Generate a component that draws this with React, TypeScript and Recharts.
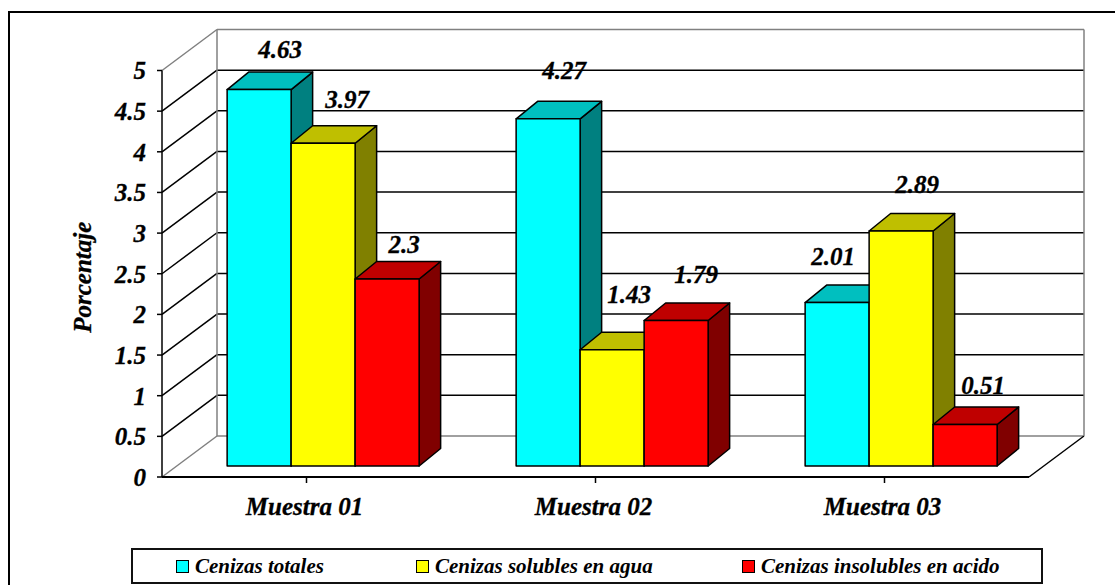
import { BarChart, Bar, XAxis, YAxis, CartesianGrid, Legend, LabelList } from "recharts";

const categories = ["Muestra 01", "Muestra 02", "Muestra 03"];
const cenizasTotales = [4.63, 4.27, 2.01];
const cenizasSolubles = [3.97, 1.43, 2.89];
const cenizasInsolubles = [2.3, 1.79, 0.51];
const yTicks = [0, 0.5, 1, 1.5, 2, 2.5, 3, 3.5, 4, 4.5, 5];

const data = categories.map((name, i) => ({
  name,
  totales: cenizasTotales[i],
  solubles: cenizasSolubles[i],
  insolubles: cenizasInsolubles[i],
}));

const SERIF = '"Liberation Serif", "Times New Roman", serif';
const textStyle = { fontFamily: SERIF, fontWeight: "bold", fontStyle: "italic" } as const;

// plot box and the fake perspective of the walls
const PLOT = { left: 162, top: 70.5, right: 1029, bottom: 477 };
const WALL_DX = 55;
const WALL_DY = 41;
// bars stand part way into the floor, and have their own depth
const BAR_DX = 16;
const BAR_DY = 11;
const DEPTH_X = 21.5;
const DEPTH_Y = 17.5;

// hand placement of the value labels, relative to the front top centre of each bar
const labelNudge = {
  totales: [[21, -40], [16, -48], [-4, -46]],
  solubles: [[24, -43], [17, -55], [16, -46]],
  insolubles: [[17, -34], [20, -45], [18, -39]],
};

const legendLefts = [45, 285, 611];

function wallLine(props: any) {
  const { x1, x2, y1 } = props;
  const y = y1;
  const isTop = Math.abs(y - PLOT.top) < 1;
  const isFloor = Math.abs(y - PLOT.bottom) < 1;
  const edge = isTop || isFloor;
  const color = edge ? "#808080" : "#000";
  return (
    <g key={props.key ?? y}>
      <line x1={x1} y1={y} x2={x1 + WALL_DX} y2={y - WALL_DY} stroke={color} strokeWidth={1.5} />
      <line x1={x1 + WALL_DX} y1={y - WALL_DY} x2={x2 + WALL_DX} y2={y - WALL_DY} stroke={color} strokeWidth={1.5} />
      {isTop && (
        <>
          <line x1={x1 + WALL_DX} y1={y - WALL_DY} x2={x1 + WALL_DX} y2={PLOT.bottom - WALL_DY} stroke="#808080" strokeWidth={1.5} />
          <line x1={x2 + WALL_DX} y1={y - WALL_DY} x2={x2 + WALL_DX} y2={PLOT.bottom - WALL_DY} stroke="#808080" strokeWidth={1.5} />
        </>
      )}
      {isFloor && <line x1={x2} y1={y} x2={x2 + WALL_DX} y2={y - WALL_DY} stroke="#000" strokeWidth={1.5} />}
    </g>
  );
}

function Box3D(props: any) {
  const { x, y, width, height, fill, topFill, sideFill } = props;
  const fx = x + BAR_DX;
  const fy = y - BAR_DY;
  const r = fx + width;
  const b = fy + height;
  const top = `${fx},${fy} ${fx + DEPTH_X},${fy - DEPTH_Y} ${r + DEPTH_X},${fy - DEPTH_Y} ${r},${fy}`;
  const side = `${r},${fy} ${r + DEPTH_X},${fy - DEPTH_Y} ${r + DEPTH_X},${b - DEPTH_Y} ${r},${b}`;
  return (
    <g stroke="#000" strokeWidth={1.5} strokeLinejoin="round">
      <polygon points={side} fill={sideFill} />
      <polygon points={top} fill={topFill} />
      <rect x={fx} y={fy} width={width} height={height} fill={fill} />
    </g>
  );
}

function valueLabel(series: keyof typeof labelNudge) {
  return (props: any) => {
    const { x, y, width, value, index } = props;
    const [dx, dy] = labelNudge[series][index];
    return (
      <text
        x={x + BAR_DX + width / 2 + dx}
        y={y - BAR_DY + dy + 8}
        textAnchor="middle"
        fontSize={25}
        fill="#000"
        stroke="#000"
        strokeWidth={0.3}
        style={textStyle}
      >
        {value}
      </text>
    );
  };
}

function LegendBox({ payload }: any) {
  return (
    <div style={{ position: "relative", width: 912, height: 36, boxSizing: "border-box", border: "2px solid #111" }}>
      {(payload ?? []).map((item: any, i: number) => (
        <div key={item.value} style={{ position: "absolute", left: legendLefts[i] - 2, top: 0, height: 32, display: "flex", alignItems: "center" }}>
          <span style={{ display: "inline-block", boxSizing: "border-box", width: 13, height: 13, background: item.color, border: "1.5px solid #000", marginRight: 6 }} />
          <span style={{ ...textStyle, fontSize: 21, color: "#000", whiteSpace: "nowrap" }}>{item.value}</span>
        </div>
      ))}
    </div>
  );
}

function AxisTitle({ viewBox }: any) {
  const y = viewBox.y + viewBox.height / 2;
  return (
    <text transform={`translate(91 ${y + 3.5}) rotate(-90)`} textAnchor="middle" fontSize={25} fill="#000" stroke="#000" strokeWidth={0.3} style={textStyle}>
      Porcentaje
    </text>
  );
}

function CategoryTick({ x, y, payload }: any) {
  return (
    <text x={x - 2} y={y + 6} dy={24} textAnchor="middle" fontSize={25} fill="#000" stroke="#000" strokeWidth={0.3} style={textStyle}>
      {payload.value}
    </text>
  );
}

export default function App() {
  return (
    <div style={{ position: "absolute", left: 0, top: 0, width: 1115, height: 585, overflow: "hidden", background: "#fff" }}>
      <div style={{ position: "absolute", left: 8, top: 11, right: 0, bottom: 0, borderTop: "2px solid #000", borderLeft: "2px solid #000" }} />
      <BarChart
        width={1115}
        height={585}
        data={data}
        margin={{ top: PLOT.top, right: 1115 - PLOT.right, bottom: 78, left: PLOT.left - 70 }}
        barCategoryGap="17%"
        barGap={0}
      >
        <CartesianGrid horizontal={wallLine} vertical={false} />
        <XAxis
          dataKey="name"
          height={30}
          axisLine={{ stroke: "#000", strokeWidth: 2 }}
          tickLine={{ stroke: "#000", strokeWidth: 1.5 }}
          tickSize={6}
          tick={<CategoryTick />}
          interval={0}
        />
        <YAxis
          width={70}
          domain={[0, 5]}
          ticks={yTicks}
          interval={0}
          axisLine={{ stroke: "#000", strokeWidth: 1.5 }}
          tickLine={{ stroke: "#000", strokeWidth: 1.5 }}
          tickSize={5}
          tickMargin={11}
          tick={{ fontSize: 25, fill: "#000", stroke: "#000", strokeWidth: 0.3, ...textStyle }}
          label={<AxisTitle />}
        />
        <Legend
          layout="horizontal"
          verticalAlign="middle"
          itemSorter={null}
          content={<LegendBox />}
          wrapperStyle={{ position: "absolute", left: 131, top: 548, width: 912, height: 36 }}
        />
        <Bar
          dataKey="totales"
          name="Cenizas totales"
          fill="#00FFFF"
          isAnimationActive={false}
          shape={(p: any) => <Box3D {...p} topFill="#00BFBF" sideFill="#008080" />}
        >
          <LabelList dataKey="totales" content={valueLabel("totales")} />
        </Bar>
        <Bar
          dataKey="solubles"
          name="Cenizas solubles en agua"
          fill="#FFFF00"
          isAnimationActive={false}
          shape={(p: any) => <Box3D {...p} topFill="#BFBF00" sideFill="#808000" />}
        >
          <LabelList dataKey="solubles" content={valueLabel("solubles")} />
        </Bar>
        <Bar
          dataKey="insolubles"
          name="Cenizas insolubles en acido"
          fill="#FF0000"
          isAnimationActive={false}
          shape={(p: any) => <Box3D {...p} topFill="#BF0000" sideFill="#800000" />}
        >
          <LabelList dataKey="insolubles" content={valueLabel("insolubles")} />
        </Bar>
      </BarChart>
    </div>
  );
}
